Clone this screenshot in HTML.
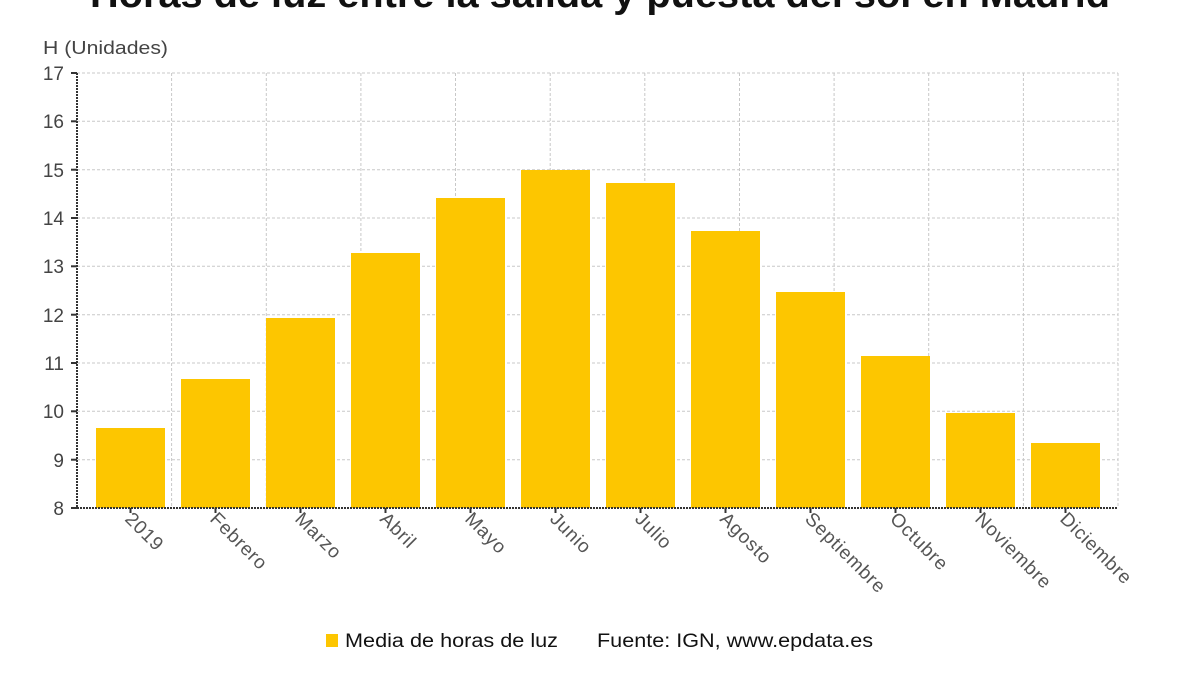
<!DOCTYPE html>
<html><head><meta charset="utf-8"><style>
html,body{margin:0;padding:0;background:#fff;}
svg{display:block;font-family:"Liberation Sans",sans-serif;}
</style></head><body>
<svg width="1200" height="675" viewBox="0 0 1200 675">
<text x="90" y="7" font-size="38" font-weight="bold" fill="#111" textLength="1020" lengthAdjust="spacingAndGlyphs">Horas de luz entre la salida y puesta del sol en Madrid</text>
<text x="43" y="54" font-size="18" fill="#444" textLength="125" lengthAdjust="spacingAndGlyphs">H (Unidades)</text>
<g stroke="#c8c8c8" stroke-width="1" stroke-dasharray="3,2">
<line x1="77" y1="73" x2="1118" y2="73"/><line x1="77" y1="121.3" x2="1118" y2="121.3"/>
<line x1="77" y1="169.7" x2="1118" y2="169.7"/><line x1="77" y1="218" x2="1118" y2="218"/>
<line x1="77" y1="266.3" x2="1118" y2="266.3"/><line x1="77" y1="314.7" x2="1118" y2="314.7"/>
<line x1="77" y1="363" x2="1118" y2="363"/><line x1="77" y1="411.3" x2="1118" y2="411.3"/>
<line x1="77" y1="459.7" x2="1118" y2="459.7"/>
<line x1="171.6" y1="73" x2="171.6" y2="508"/><line x1="266.3" y1="73" x2="266.3" y2="508"/>
<line x1="360.9" y1="73" x2="360.9" y2="508"/><line x1="455.5" y1="73" x2="455.5" y2="508"/>
<line x1="550.2" y1="73" x2="550.2" y2="508"/><line x1="644.8" y1="73" x2="644.8" y2="508"/>
<line x1="739.5" y1="73" x2="739.5" y2="508"/><line x1="834.1" y1="73" x2="834.1" y2="508"/>
<line x1="928.7" y1="73" x2="928.7" y2="508"/><line x1="1023.4" y1="73" x2="1023.4" y2="508"/>
<line x1="1118" y1="73" x2="1118" y2="508"/>
</g>
<g fill="#fdc600">
<rect x="96" y="428" width="69" height="80"/>
<rect x="181" y="379" width="69" height="129"/>
<rect x="266" y="318" width="69" height="190"/>
<rect x="351" y="253" width="69" height="255"/>
<rect x="436" y="198" width="69" height="310"/>
<rect x="521" y="170" width="69" height="338"/>
<rect x="606" y="183" width="69" height="325"/>
<rect x="691" y="231" width="69" height="277"/>
<rect x="776" y="292" width="69" height="216"/>
<rect x="861" y="356" width="69" height="152"/>
<rect x="946" y="413" width="69" height="95"/>
<rect x="1031" y="443" width="69" height="65"/>
</g>
<g stroke="#333" stroke-width="2" stroke-dasharray="2,1">
<line x1="77" y1="73" x2="77" y2="508"/>
<line x1="77" y1="508" x2="1118" y2="508"/>
</g>
<g stroke="#333" stroke-width="2">
<line x1="71" y1="73" x2="77" y2="73"/><line x1="71" y1="121.3" x2="77" y2="121.3"/>
<line x1="71" y1="169.7" x2="77" y2="169.7"/><line x1="71" y1="218" x2="77" y2="218"/>
<line x1="71" y1="266.3" x2="77" y2="266.3"/><line x1="71" y1="314.7" x2="77" y2="314.7"/>
<line x1="71" y1="363" x2="77" y2="363"/><line x1="71" y1="411.3" x2="77" y2="411.3"/>
<line x1="71" y1="459.7" x2="77" y2="459.7"/><line x1="71" y1="508" x2="77" y2="508"/>
<line x1="130.5" y1="508" x2="130.5" y2="513"/><line x1="215.5" y1="508" x2="215.5" y2="513"/>
<line x1="300.5" y1="508" x2="300.5" y2="513"/><line x1="385.5" y1="508" x2="385.5" y2="513"/>
<line x1="470.5" y1="508" x2="470.5" y2="513"/><line x1="555.5" y1="508" x2="555.5" y2="513"/>
<line x1="640.5" y1="508" x2="640.5" y2="513"/><line x1="725.5" y1="508" x2="725.5" y2="513"/>
<line x1="810.5" y1="508" x2="810.5" y2="513"/><line x1="895.5" y1="508" x2="895.5" y2="513"/>
<line x1="980.5" y1="508" x2="980.5" y2="513"/><line x1="1065.5" y1="508" x2="1065.5" y2="513"/>
</g>
<g font-size="19" fill="#444" text-anchor="end">
<text x="64" y="80">17</text><text x="64" y="128">16</text><text x="64" y="177">15</text>
<text x="64" y="225">14</text><text x="64" y="273">13</text><text x="64" y="322">12</text>
<text x="64" y="370">11</text><text x="64" y="418">10</text><text x="64" y="467">9</text>
<text x="64" y="515">8</text>
</g>
<clipPath id="c"><rect x="0" y="510" width="1200" height="86"/></clipPath>
<g font-size="19" fill="#555" letter-spacing="0.8" clip-path="url(#c)">
<text transform="translate(124,520) rotate(45)">2019</text>
<text transform="translate(209,520) rotate(45)">Febrero</text>
<text transform="translate(294,520) rotate(45)">Marzo</text>
<text transform="translate(379,520) rotate(45)">Abril</text>
<text transform="translate(464,520) rotate(45)">Mayo</text>
<text transform="translate(549,520) rotate(45)">Junio</text>
<text transform="translate(634,520) rotate(45)">Julio</text>
<text transform="translate(719,520) rotate(45)">Agosto</text>
<text transform="translate(804,520) rotate(45)">Septiembre</text>
<text transform="translate(889,520) rotate(45)">Octubre</text>
<text transform="translate(974,520) rotate(45)">Noviembre</text>
<text transform="translate(1059,520) rotate(45)">Diciembre</text>
</g>
<rect x="326" y="634" width="12" height="13" fill="#fdc600"/>
<text x="345" y="647" font-size="19" fill="#111" textLength="213" lengthAdjust="spacingAndGlyphs">Media de horas de luz</text>
<text x="597" y="647" font-size="19" fill="#111" textLength="276" lengthAdjust="spacingAndGlyphs">Fuente: IGN, www.epdata.es</text>
</svg>
</body></html>
